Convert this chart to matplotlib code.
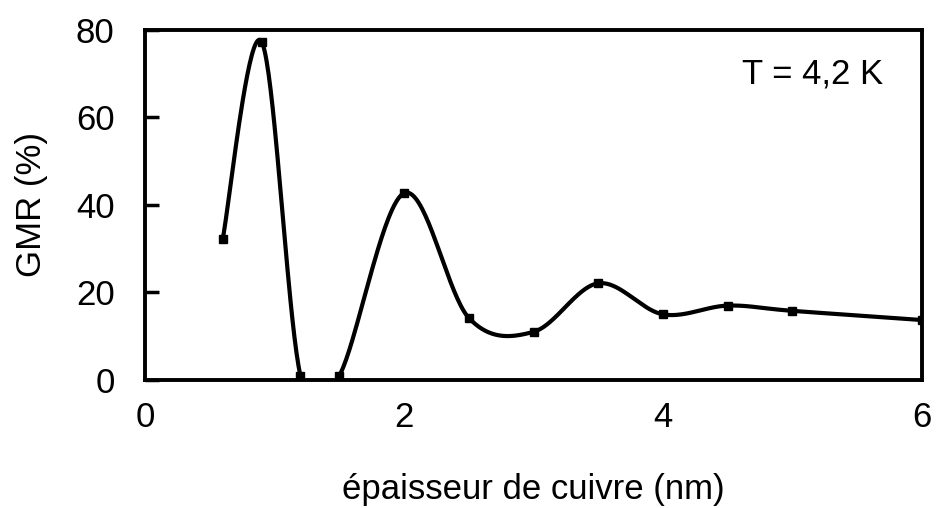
import matplotlib
matplotlib.use("Agg")
import matplotlib.pyplot as plt
import numpy as np

# épaisseur de cuivre (nm) / GMR (%)
thickness = [0.6, 0.9, 1.2, 1.5, 2.0, 2.5, 3.0, 3.5, 4.0, 4.5, 5.0, 6.0]
gmr = [32.3, 77.3, 1.0, 1.0, 42.7, 14.2, 11.0, 22.1, 15.0, 17.0, 15.8, 13.7]

plt.rcParams['font.family'] = ['Liberation Sans', 'DejaVu Sans']


def smooth(x, y, n=40):
    # Excel-style smoothed line (Catmull-Rom through Bezier segments)
    x = np.asarray(x, float)
    y = np.asarray(y, float)
    px = np.concatenate([[x[0]], x, [x[-1]]])
    py = np.concatenate([[y[0]], y, [y[-1]]])
    t = np.linspace(0, 1, n)
    xs, ys = [], []
    for i in range(1, len(px) - 2):
        p0 = np.array([px[i], py[i]])
        p3 = np.array([px[i + 1], py[i + 1]])
        c1 = p0 + (np.array([px[i + 1], py[i + 1]]) - np.array([px[i - 1], py[i - 1]])) / 6
        c2 = p3 - (np.array([px[i + 2], py[i + 2]]) - np.array([px[i], py[i]])) / 6
        b = ((1 - t) ** 3)[:, None] * p0 + (3 * (1 - t) ** 2 * t)[:, None] * c1 \
            + (3 * (1 - t) * t ** 2)[:, None] * c2 + (t ** 3)[:, None] * p3
        xs.extend(b[:, 0])
        ys.extend(b[:, 1])
    return np.array(xs), np.array(ys)


fig = plt.figure(figsize=(9.36, 5.08), dpi=100)
ax = fig.add_axes([0.155, 0.252, 0.830, 0.689])

sx, sy = smooth(thickness, gmr)
ax.plot(sx, sy, color='black', lw=3.0, solid_capstyle='butt')
ax.plot(thickness, gmr, 's', color='black', ms=5.5)

ax.set_xlim(0, 6)
ax.set_ylim(0, 80)
ax.set_xticks([0, 2, 4, 6])
ax.set_yticks([0, 20, 40, 60, 80])
ax.tick_params(axis='x', length=0, pad=15, labelsize=25)
ax.tick_params(axis='y', direction='in', length=10, width=2.5, pad=22, labelsize=25)
for s in ax.spines.values():
    s.set_linewidth(2.8)

ax.set_xlabel('épaisseur de cuivre (nm)', fontsize=25, labelpad=28)
ax.set_ylabel('GMR (%)', fontsize=25, labelpad=20)
ax.text(0.95, 0.875, 'T = 4,2 K', transform=ax.transAxes, fontsize=25,
        ha='right', va='center')

fig.savefig('out.png', dpi=100)
